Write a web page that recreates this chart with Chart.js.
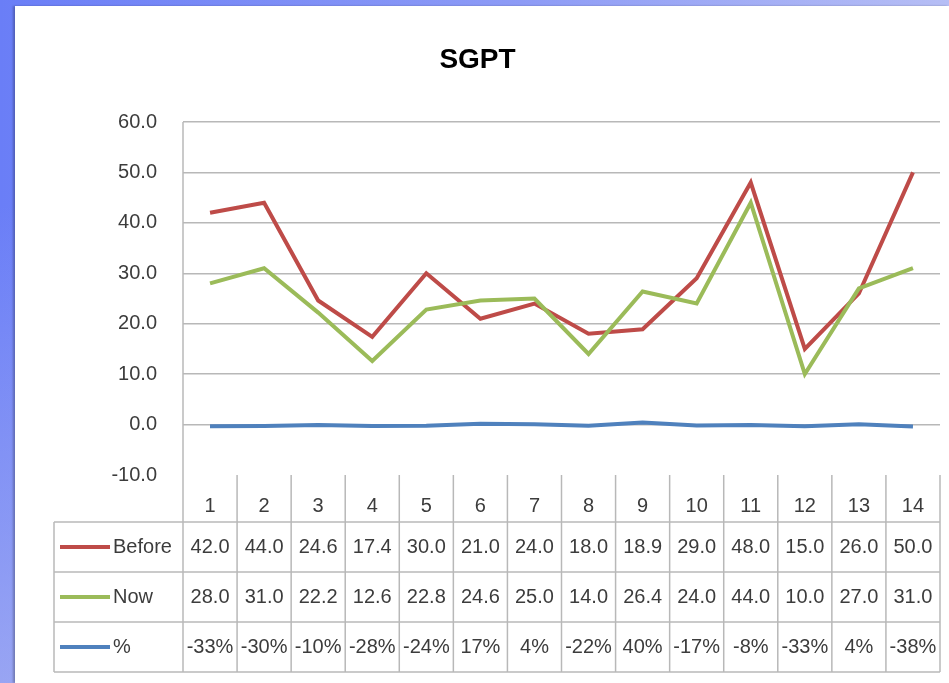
<!DOCTYPE html>
<html>
<head>
<meta charset="utf-8">
<script src="https://cdn.jsdelivr.net/npm/chart.js@4/dist/chart.umd.min.js"></script>
<style>
    html, body {
        margin: 0;
        padding: 0;
        width: 949px;
        height: 683px;
        overflow: hidden;
    }
    body {
        background:
            linear-gradient(to bottom, rgba(255, 255, 255, 0) 30%, rgba(190, 196, 240, 0.55) 100%),
            linear-gradient(to right, #6a7ef7 0%, #8d9bf6 55%, #b6bef5 100%);
    }
    #frame {
        position: absolute;
        left: 15px;
        top: 6px;
        width: 934px;
        height: 677px;
        background: #ffffff;
        box-shadow: -2px 0 2px rgba(0, 0, 0, 0.25);
    }
</style>
</head>
<body>
<div id="frame">
    <canvas id="sgptChart" width="934" height="677"></canvas>
</div>
<script>
// chart data
const categories = ['1', '2', '3', '4', '5', '6', '7', '8', '9', '10', '11', '12', '13', '14'];
const beforeValues = [42.0, 44.0, 24.6, 17.4, 30.0, 21.0, 24.0, 18.0, 18.9, 29.0, 48.0, 15.0, 26.0, 50.0];
const nowValues = [28.0, 31.0, 22.2, 12.6, 22.8, 24.6, 25.0, 14.0, 26.4, 24.0, 44.0, 10.0, 27.0, 31.0];
const percentValues = [-0.33, -0.30, -0.10, -0.28, -0.24, 0.17, 0.04, -0.22, 0.40, -0.17, -0.08, -0.33, 0.04, -0.38];
const seriesNames = ['Before', 'Now', '%'];
const yMin = -10;
const yMax = 60;
const yStep = 10;

const textColor = '#3c3c3c';
const gridColor = '#b8b8b8';
const fontFamily = '"Liberation Sans", Arial, sans-serif';

// draws the Excel style data table under the plot
const dataTablePlugin = {
    id: 'dataTable',
    afterDraw(chart) {
        const ctx = chart.ctx;
        const area = chart.chartArea;
        const xScale = chart.scales.x;
        const rowTop = 516;
        const rowH = 50;
        const tableLeft = 39;
        const rows = chart.data.datasets.length;
        const tableBottom = rowTop + rows * rowH;
        const colW = (area.right - area.left) / categories.length;

        ctx.save();
        ctx.strokeStyle = gridColor;
        ctx.lineWidth = 1.5;

        // horizontal rules
        for (let r = 0; r <= rows; r++) {
            const y = rowTop + r * rowH;
            ctx.beginPath();
            ctx.moveTo(tableLeft, y);
            ctx.lineTo(area.right, y);
            ctx.stroke();
        }
        // table left edge
        ctx.beginPath();
        ctx.moveTo(tableLeft, rowTop);
        ctx.lineTo(tableLeft, tableBottom);
        ctx.stroke();
        // value axis line, runs through the table
        ctx.beginPath();
        ctx.moveTo(area.left, area.top);
        ctx.lineTo(area.left, tableBottom);
        ctx.stroke();
        // column separators
        for (let i = 1; i <= categories.length; i++) {
            const x = area.left + i * colW;
            ctx.beginPath();
            ctx.moveTo(x, area.bottom);
            ctx.lineTo(x, tableBottom);
            ctx.stroke();
        }

        ctx.font = '20px ' + fontFamily;
        ctx.textBaseline = 'middle';
        chart.data.datasets.forEach((ds, r) => {
            const cy = rowTop + r * rowH + rowH / 2;
            // legend key
            ctx.strokeStyle = ds.borderColor;
            ctx.lineWidth = 4;
            ctx.beginPath();
            ctx.moveTo(45, cy);
            ctx.lineTo(95, cy);
            ctx.stroke();
            ctx.fillStyle = textColor;
            ctx.textAlign = 'left';
            ctx.fillText(ds.label, 98, cy);
            // values
            ctx.textAlign = 'center';
            ds.data.forEach((v, i) => {
                const cx = xScale.getPixelForValue(i);
                const txt = ds.label === '%' ? Math.round(v * 100) + '%' : v.toFixed(1);
                ctx.fillText(txt, cx, cy);
            });
        });
        ctx.restore();
    }
};

const ctx = document.getElementById('sgptChart').getContext('2d');
const chart = new Chart(ctx, {
    type: 'line',
    data: {
        labels: categories,
        datasets: [
            {
                label: seriesNames[0],
                data: beforeValues,
                borderColor: '#be4b48',
                borderWidth: 4,
                pointRadius: 0,
                order: 3
            },
            {
                label: seriesNames[1],
                data: nowValues,
                borderColor: '#9bbb59',
                borderWidth: 4,
                pointRadius: 0,
                order: 2
            },
            {
                label: seriesNames[2],
                data: percentValues,
                borderColor: '#4f81bd',
                borderWidth: 4,
                pointRadius: 0,
                order: 1
            }
        ]
    },
    options: {
        responsive: false,
        animation: false,
        layout: {
            padding: { left: 0, right: 9, top: 0, bottom: 161 }
        },
        plugins: {
            legend: { display: false },
            tooltip: { enabled: false },
            title: {
                display: true,
                text: 'SGPT',
                color: '#000000',
                font: { family: fontFamily, size: 28, weight: 'bold' },
                padding: { top: 37, bottom: 45.4 }
            }
        },
        scales: {
            x: {
                offset: true,
                grid: { display: false },
                border: { display: false },
                ticks: {
                    color: textColor,
                    font: { family: fontFamily, size: 20 },
                    padding: 11,
                    maxRotation: 0
                },
                afterFit(scale) {
                    scale.height = 47;
                }
            },
            y: {
                min: yMin,
                max: yMax,
                grid: {
                    color: c => c.tick && c.tick.value === yMin ? 'rgba(0,0,0,0)' : gridColor,
                    lineWidth: 1.5,
                    drawTicks: false
                },
                border: { display: false },
                ticks: {
                    stepSize: yStep,
                    color: textColor,
                    font: { family: fontFamily, size: 20 },
                    padding: 26,
                    callback: v => v.toFixed(1)
                },
                afterFit(scale) {
                    scale.width = 168;
                }
            }
        }
    },
    plugins: [dataTablePlugin]
});
</script>
</body>
</html>
